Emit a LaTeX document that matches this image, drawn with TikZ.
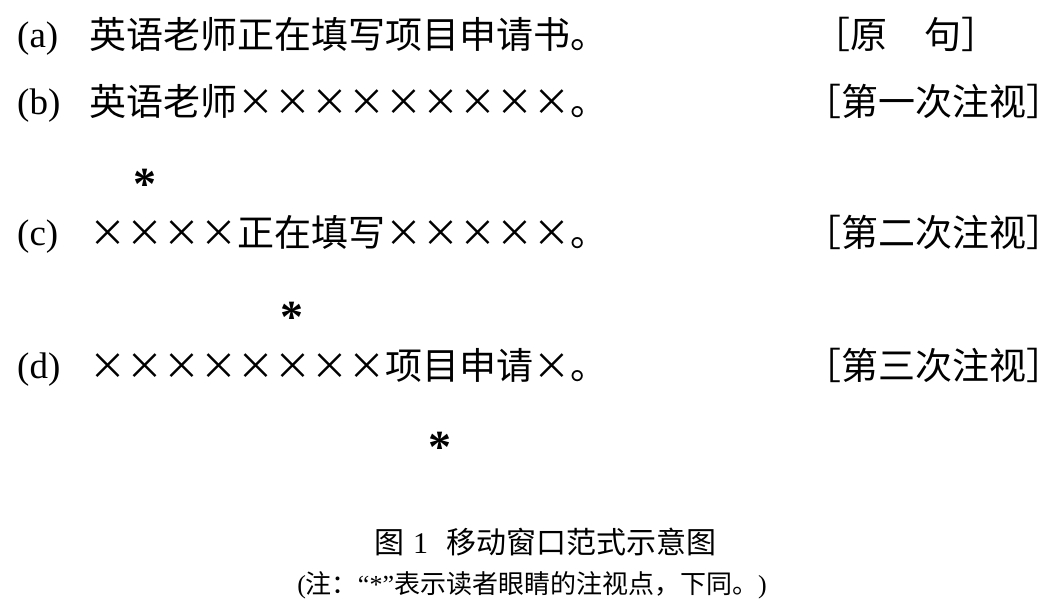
\documentclass[tikz,border=0pt]{standalone}
\usepackage{fontspec}
\setmainfont{Liberation Serif}
\newfontfamily\cjk{Noto Sans CJK SC}
\usetikzlibrary{positioning}
\newcommand{\xx}{\makebox[1em]{×}}
\newcommand{\jie}{\makebox[1em]{。}}

\begin{document}
\begin{tikzpicture}[
    x=1pt, y=-1pt,
    tag/.style={anchor=west, inner sep=0pt, font=\fontsize{37}{44}\selectfont, text height=0.68em, text depth=0.18em},
    sent/.style={anchor=west, inner sep=0pt, font=\cjk\fontsize{37}{44}\selectfont, text height=0.88em, text depth=0.12em},
    stage/.style={anchor=west, inner sep=0pt, font=\cjk\fontsize{37}{44}\selectfont, text height=0.88em, text depth=0.12em},
    fixpt/.style={anchor=base, inner sep=0pt, font=\bfseries\fontsize{46}{52}\selectfont},
    caption/.style={anchor=center, inner sep=0pt, font=\fontsize{30}{35}\selectfont, text height=0.88em, text depth=0.12em}
]
\useasboundingbox (0,0) rectangle (1064,610);
% the four lines
\node[tag] (ta) at (17,45) {(a)};
\node[sent] (sa) at (89,45) {英语老师正在填写项目申请书\jie};
\node[stage] (ma) at (813,45) {［原　句］};
\node[tag] (tb) at (17,112) {(b)};
\node[sent] (sb) at (89,112) {英语老师\xx\xx\xx\xx\xx\xx\xx\xx\xx\jie};
\node[stage] (mb) at (804,112) {［第一次注视］};
\node[tag] (tc) at (17,243) {(c)};
\node[sent] (sc) at (89,243) {\xx\xx\xx\xx{}正在填写\xx\xx\xx\xx\xx\jie};
\node[stage] (mc) at (804,243) {［第二次注视］};
\node[tag] (td) at (17,376) {(d)};
\node[sent] (sd) at (89,376) {\xx\xx\xx\xx\xx\xx\xx\xx{}项目申请\xx\jie};
\node[stage] (md) at (804,376) {［第三次注视］};
% fixation points
\node[fixpt] (fb) at (145,199) {*};
\node[fixpt] (fc) at (292,332) {*};
\node[fixpt] (fd) at (440,462) {*};
% caption
\node[caption] (cap) at (545,550) {{\cjk 图}\hspace{9pt}1\hspace{18pt}{\cjk 移动窗口范式示意图}};
\node[caption, font=\fontsize{26}{30}\selectfont] (note) at (532,590) {({\cjk 注：}“*”{\cjk 表示读者眼睛的注视点，下同。})};
\end{tikzpicture}
\end{document}
